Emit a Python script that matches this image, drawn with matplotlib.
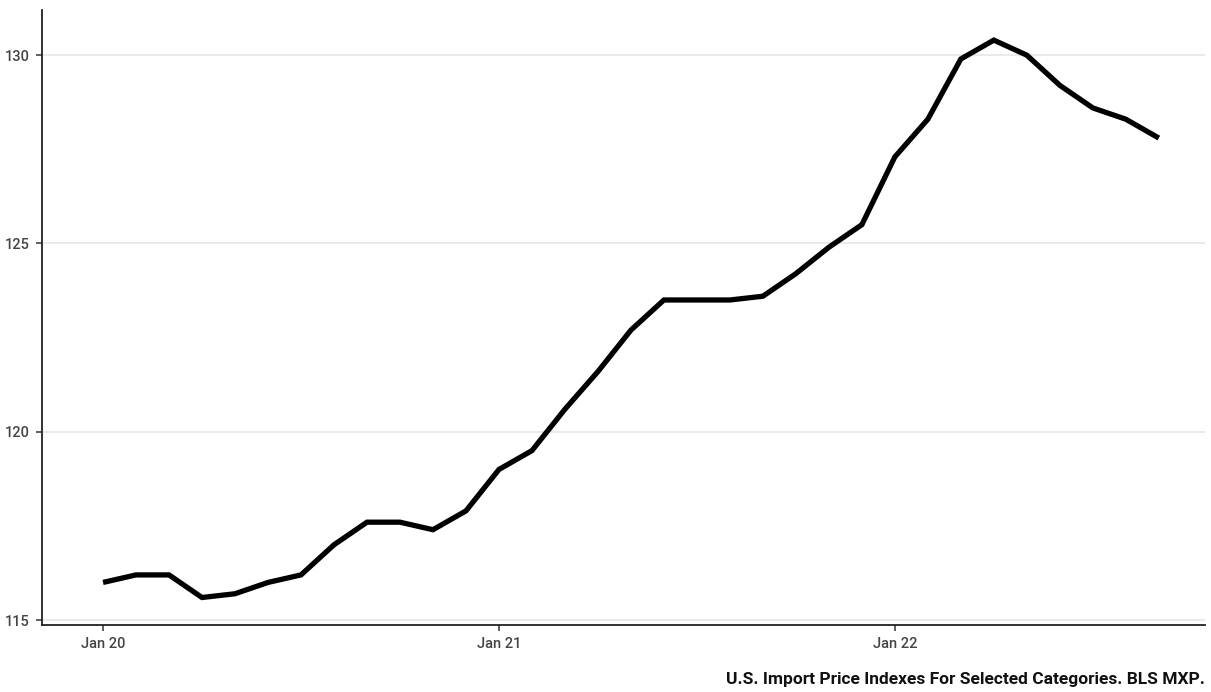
import matplotlib
matplotlib.use("Agg")
import matplotlib.pyplot as plt
import numpy as np

# monthly index values, Jan 2020 .. Sep 2022
months = np.arange(33)
index_values = [
    116.0, 116.2, 116.2, 115.6, 115.7, 116.0, 116.2, 117.0, 117.6, 117.6, 117.4, 117.9,
    119.0, 119.5, 120.6, 121.6, 122.7, 123.5, 123.5, 123.5, 123.6, 124.2, 124.9, 125.5,
    127.3, 128.3, 129.9, 130.4, 130.0, 129.2, 128.6, 128.3, 127.8,
]
tick_pos = [0, 12, 24]
tick_labels = ["Jan 20", "Jan 21", "Jan 22"]
y_ticks = [115, 120, 125, 130]
caption = "U.S. Import Price Indexes For Selected Categories. BLS MXP."

plt.rcParams["font.family"] = ["Roboto", "DejaVu Sans"]

fig = plt.figure(figsize=(12.11, 6.92), dpi=100)
ax = fig.add_axes([42 / 1211, 67 / 692, (1205 - 42) / 1211, (625 - 10) / 692])

ax.plot(months, index_values, color="black", linewidth=3.8,
        solid_joinstyle="miter", solid_capstyle="butt")

ax.set_xlim(-1.85, 33.4)
ax.set_ylim(114.87, 131.2)
ax.set_xticks(tick_pos)
ax.set_xticklabels(tick_labels)
ax.set_yticks(y_ticks)
ax.grid(axis="y", color="#e6e6e6", linewidth=1.2)
ax.set_axisbelow(True)

for side in ("top", "right"):
    ax.spines[side].set_visible(False)
for side in ("left", "bottom"):
    ax.spines[side].set_linewidth(1.3)
    ax.spines[side].set_color("#222222")

ax.tick_params(axis="both", length=4, width=1.1, color="#333333",
               labelsize=10.5, labelcolor="#444444", pad=5)
for lbl in ax.get_xticklabels() + ax.get_yticklabels():
    lbl.set_fontweight("medium")

fig.text(1205 / 1211, 1 - 684 / 692, caption, ha="right", va="baseline",
         fontsize=12.5, fontweight="bold", color="#111111")

fig.savefig("out.png", dpi=100)
